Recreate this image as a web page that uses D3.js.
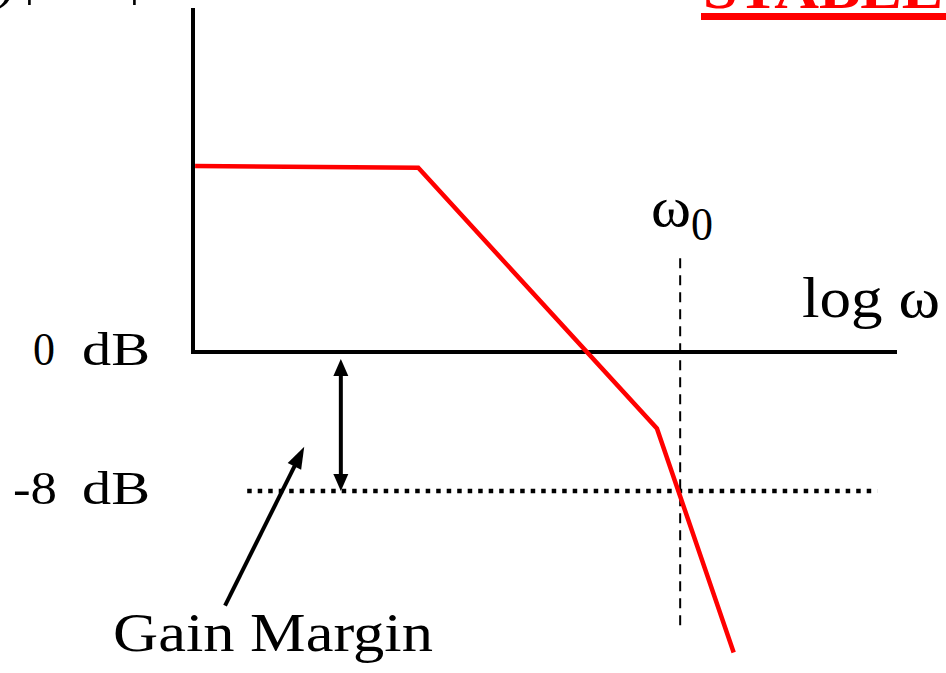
<!DOCTYPE html>
<html><head><meta charset="utf-8">
<script src="https://cdn.jsdelivr.net/npm/d3@7"></script>
<style>html,body{margin:0;padding:0;background:#fff;overflow:hidden}</style>
</head><body>
<script>
// ---- data (log ω in arbitrary units, magnitude in dB) ----
const magLogW = [0.3, 32, 65.9, 76.8];
const magDb   = [10.7, 10.6, -4.4, -17.3];
const gainMarginDb = -8;
const omega0 = 69.2;
const omega0Span = [5.4, -16.1];
const marginLineSpan = [7.7, 97.2];
const marginArrowX = 21;
const pointerFrom = [4.55, -14.6];
const pointerTo = [15.8, -5.45];
const axisX = [0, 100];
const axisYTopDb = 19.8;
const yTickNums = ["0", "-8"];
const yTickUnit = "dB";
const yTickValues = [0, -8];

const W = 946, H = 673;
const svg = d3.select("body").append("svg").attr("width", W).attr("height", H);
const x = d3.scaleLinear().domain(axisX).range([193, 897]);
const y = d3.scaleLinear().domain([-8, 0]).range([491, 352]);
const serif = "'Liberation Serif','Times New Roman',serif";

// top cropped title
svg.append("text").attr("x", 703).attr("y", 8).attr("font-family", serif)
  .attr("font-weight", "bold").attr("font-size", 54).attr("fill", "#ff0000")
  .attr("textLength", 240).attr("lengthAdjust", "spacingAndGlyphs").text("STABLE");
svg.append("rect").attr("x", 701).attr("y", 13).attr("width", 245).attr("height", 7).attr("fill", "#ff0000");
// cropped text top-left
svg.append("text").attr("x", -4).attr("y", -3).attr("font-family", serif).attr("font-size", 60).text(")");
svg.append("text").attr("x", 24).attr("y", -7).attr("font-family", serif).attr("font-size", 54).text("|");
svg.append("text").attr("x", 129).attr("y", -7).attr("font-family", serif).attr("font-size", 54).text("|");

// dashed ω0 line
svg.append("line").attr("x1", x(omega0)).attr("x2", x(omega0))
  .attr("y1", y(omega0Span[0])).attr("y2", y(omega0Span[1]))
  .attr("stroke", "#000").attr("stroke-width", 2).attr("stroke-dasharray", "10,7");

// dotted -8 dB line
svg.append("line").attr("x1", x(marginLineSpan[0])).attr("x2", x(marginLineSpan[1]))
  .attr("y1", y(gainMarginDb)).attr("y2", y(gainMarginDb))
  .attr("stroke", "#000").attr("stroke-width", 4.5).attr("stroke-dasharray", "4.5,6");

// axes
svg.append("path").attr("d", d3.line()([[x(axisX[0]), y(axisYTopDb)], [x(axisX[0]), y(0)], [x(axisX[1]), y(0)]]))
  .attr("fill", "none").attr("stroke", "#000").attr("stroke-width", 4).attr("stroke-linejoin", "miter");

// red magnitude curve
const pts = magLogW.map((v, i) => [x(v), y(magDb[i])]);
svg.append("path").attr("d", d3.line()(pts)).attr("fill", "none")
  .attr("stroke", "#ff0000").attr("stroke-width", 4.5).attr("stroke-linejoin", "miter");

// arrow helper
function arrow(p0, p1, headLen, headW, sw) {
  const dx = p1[0]-p0[0], dy = p1[1]-p0[1], L = Math.hypot(dx, dy);
  const ux = dx/L, uy = dy/L, nx = -uy, ny = ux;
  const bx = p1[0]-ux*headLen, by = p1[1]-uy*headLen;
  svg.append("line").attr("x1", p0[0]).attr("y1", p0[1]).attr("x2", bx+ux*2).attr("y2", by+uy*2)
    .attr("stroke", "#000").attr("stroke-width", sw);
  svg.append("path").attr("d", `M${p1[0]},${p1[1]}L${bx+nx*headW/2},${by+ny*headW/2}L${bx-nx*headW/2},${by-ny*headW/2}Z`)
    .attr("fill", "#000");
}
// double arrow (gain margin)
const ax = x(marginArrowX);
const topTip = [ax, y(0)+7], botTip = [ax, y(gainMarginDb)];
const mid = [ax, (topTip[1]+botTip[1])/2];
arrow(mid, topTip, 17, 15, 4);
arrow(mid, botTip, 17, 15, 4);
// pointer arrow
arrow([x(pointerFrom[0]), y(pointerFrom[1])], [x(pointerTo[0]), y(pointerTo[1])], 22, 15, 4);

// tick labels
yTickNums.forEach((t, i) => {
  const tx = svg.append("text").attr("y", y(yTickValues[i]) + 13)
    .attr("font-family", serif).attr("font-size", 46);
  tx.append("tspan").attr("x", i === 0 ? 33 : 13).attr("textLength", i === 0 ? 22 : 44)
    .attr("lengthAdjust", "spacingAndGlyphs").text(t);
  tx.append("tspan").attr("x", 82).attr("textLength", 68)
    .attr("lengthAdjust", "spacingAndGlyphs").text(yTickUnit);
});
// axis title
svg.append("text").attr("x", 802).attr("y", 317).attr("font-family", serif).attr("font-size", 56)
  .attr("textLength", 138).attr("lengthAdjust", "spacingAndGlyphs").text("log ω");
// ω0 label
const w0 = svg.append("text").attr("x", 651).attr("y", 226).attr("font-family", serif).attr("font-size", 56);
w0.append("tspan").attr("textLength", 40).attr("lengthAdjust", "spacingAndGlyphs").text("ω");
w0.append("tspan").attr("x", 691).attr("y", 240).attr("font-size", 46)
  .attr("textLength", 22).attr("lengthAdjust", "spacingAndGlyphs").text("0");
// Gain Margin label
svg.append("text").attr("x", 113).attr("y", 651).attr("font-family", serif).attr("font-size", 54)
  .attr("textLength", 320).attr("lengthAdjust", "spacingAndGlyphs").text("Gain Margin");
</script>
</body></html>
